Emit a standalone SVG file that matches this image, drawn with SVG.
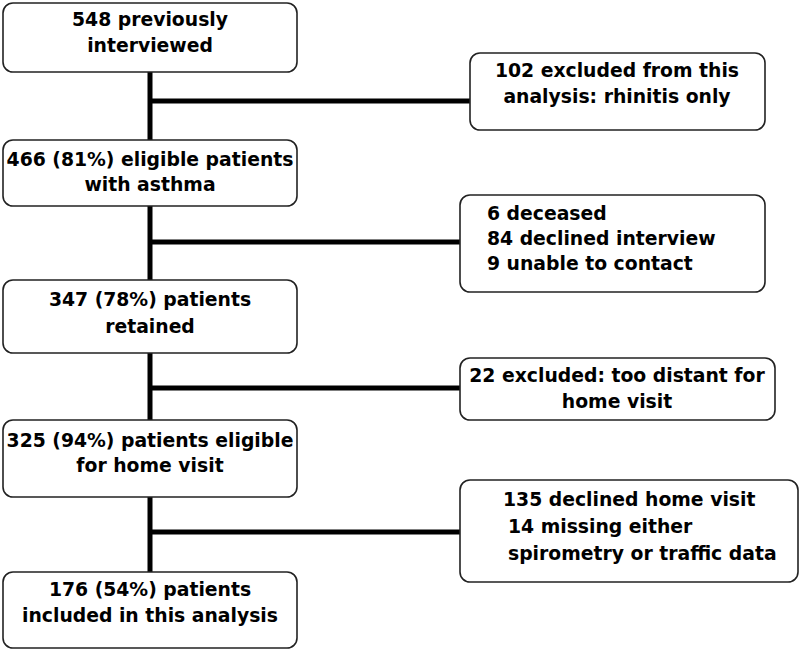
<svg xmlns="http://www.w3.org/2000/svg" width="800" height="652" viewBox="0 0 800 652">
<style>
.box{fill:#fff;stroke:#222;stroke-width:1.6}
.t{font-family:"DejaVu Sans",Verdana,sans-serif;font-weight:bold;font-size:18.8px;fill:#000}
.c{text-anchor:middle}
.ln{stroke:#000;stroke-width:5;fill:none}
</style>
<rect width="800" height="652" fill="#fff"/>
<g id="connectors">
<line class="ln" x1="150" y1="72" x2="150" y2="572"/>
<line class="ln" x1="150" y1="101" x2="471" y2="101"/>
<line class="ln" x1="150" y1="242" x2="461" y2="242"/>
<line class="ln" x1="150" y1="388" x2="461" y2="388"/>
<line class="ln" x1="150" y1="532" x2="461" y2="532"/>
</g>
<g id="n1"><rect class="box" x="3" y="3" width="294" height="69" rx="10"/>
<text class="t c" x="150" y="26">548 previously</text><text class="t c" x="150" y="52">interviewed</text></g>
<g id="n2"><rect class="box" x="3" y="140" width="294" height="66" rx="10"/>
<text class="t c" x="150" y="166">466 (81%) eligible patients</text><text class="t c" x="150" y="191">with asthma</text></g>
<g id="n3"><rect class="box" x="3" y="280" width="294" height="73" rx="10"/>
<text class="t c" x="150" y="306">347 (78%) patients</text><text class="t c" x="150" y="333">retained</text></g>
<g id="n4"><rect class="box" x="3" y="420" width="294" height="77" rx="10"/>
<text class="t c" x="150" y="447">325 (94%) patients eligible</text><text class="t c" x="150" y="472">for home visit</text></g>
<g id="n5"><rect class="box" x="3" y="572" width="294" height="76" rx="10"/>
<text class="t c" x="150" y="596">176 (54%) patients</text><text class="t c" x="150" y="622">included in this analysis</text></g>
<g id="e1"><rect class="box" x="470" y="53" width="295" height="77" rx="10"/>
<text class="t c" x="617" y="77">102 excluded from this</text><text class="t c" x="617" y="103">analysis: rhinitis only</text></g>
<g id="e2"><rect class="box" x="460" y="195" width="305" height="97" rx="10"/>
<text class="t" x="487" y="220">6 deceased</text><text class="t" x="487" y="245">84 declined interview</text><text class="t" x="487" y="270">9 unable to contact</text></g>
<g id="e3"><rect class="box" x="460" y="358" width="315" height="62" rx="10"/>
<text class="t c" x="617" y="382">22 excluded: too distant for</text><text class="t c" x="617" y="408">home visit</text></g>
<g id="e4"><rect class="box" x="460" y="480" width="338" height="102" rx="10"/>
<text class="t" x="503" y="506">135 declined home visit</text><text class="t" x="508" y="533">14 missing either</text><text class="t" x="508" y="560">spirometry or traffic data</text></g>
</svg>
